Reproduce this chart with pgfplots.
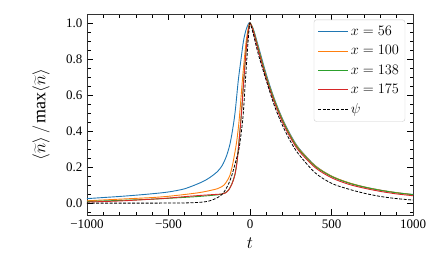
\documentclass[border=0pt]{standalone}
\usepackage{pgfplots}
\pgfplotsset{compat=1.18}
\usepackage{fontspec}
\setmainfont{Liberation Serif}
\definecolor{c0}{HTML}{1F77B4}
\definecolor{c1}{HTML}{FF7F0E}
\definecolor{c2}{HTML}{2CA02C}
\definecolor{c3}{HTML}{D62728}
\begin{document}
\begin{tikzpicture}
\begin{axis}[
  at={(0pt,0pt)}, anchor=south west,
  scale only axis, width=326pt, height=201pt,
  xmin=-1000, xmax=1000, ymin=-0.066, ymax=1.05,
  xtick={-1000,-500,0,500,1000},
  xticklabels={−1000,−500,0,500,1000},
  minor xtick={-900,-800,-700,-600,-400,-300,-200,-100,100,200,300,400,600,700,800,900},
  ytick={0,0.2,0.4,0.6,0.8,1.0},
  yticklabels={0.0,0.2,0.4,0.6,0.8,1.0},
  minor ytick={-0.05,0.05,0.1,0.15,0.25,0.3,0.35,0.45,0.5,0.55,0.65,0.7,0.75,0.85,0.9,0.95},
  tick align=inside, tick pos=both,
  major tick length=6pt, minor tick length=3.5pt,
  every tick/.style={black, line width=0.8pt},
  axis line style={line width=0.9pt, black!80},
  tick label style={font=\fontsize{13}{15}\selectfont},
  xticklabel style={yshift=-1.5pt},
  yticklabel style={xshift=-1pt},
  xlabel={$t$}, ylabel={$\langle\widetilde{n}\rangle\,/\max\langle\widetilde{n}\rangle$},
  label style={font=\fontsize{18}{20}\selectfont},
  xlabel style={at={(axis description cs:0.5,-0.14)}, anchor=center},
  ylabel style={at={(axis description cs:-0.141,0.5)}, anchor=center},
  legend cell align=left,
  legend style={at={(0.976,0.972)}, anchor=north east, draw=black!20, fill=white, fill opacity=0.85, text opacity=1, rounded corners=2.5pt, font=\fontsize{14}{16}\selectfont, row sep=4.5pt, inner xsep=4pt, inner ysep=4.5pt},
  legend image code/.code={\draw[#1] (0pt,0pt) -- (30pt,0pt);},
  every axis plot/.append style={line width=0.9pt},
]
\addplot[c0, smooth, tension=0.5] coordinates {
(-1000,0.025) (-900,0.031) (-800,0.037) (-700,0.044) (-600,0.052) (-500,0.062) (-400,0.08) (-300,0.115) (-250,0.14) (-200,0.175) (-170,0.21) (-145,0.26) (-125,0.32) (-110,0.39) (-92,0.5) (-72,0.68) (-55,0.8) (-40,0.9) (-25,0.96) (-10,0.995) (0,1.0) (20,0.968) (50,0.875) (100,0.715) (150,0.578) (200,0.467) (250,0.377) (300,0.305) (400,0.208) (500,0.15) (600,0.114) (700,0.09) (800,0.072) (900,0.058) (1000,0.048)};
\addlegendentry{$x = 56$}
\addplot[c1, smooth, tension=0.5] coordinates {
(-1000,0.013) (-800,0.022) (-600,0.031) (-500,0.038) (-400,0.048) (-300,0.06) (-200,0.08) (-160,0.1) (-140,0.125) (-125,0.15) (-110,0.2) (-95,0.27) (-82,0.34) (-70,0.43) (-61,0.52) (-45,0.70) (-25,0.887) (-10,0.975) (0,1.0) (20,0.963) (50,0.865) (100,0.705) (150,0.572) (200,0.462) (250,0.372) (300,0.302) (400,0.207) (500,0.15) (600,0.115) (700,0.09) (800,0.072) (900,0.058) (1000,0.047)};
\addlegendentry{$x = 100$}
\addplot[c2, smooth, tension=0.5] coordinates {
(-1000,0.009) (-800,0.015) (-600,0.022) (-400,0.032) (-300,0.038) (-200,0.046) (-170,0.051) (-150,0.058) (-130,0.075) (-110,0.11) (-92,0.16) (-80,0.23) (-72,0.30) (-60,0.42) (-51,0.52) (-37,0.70) (-20,0.887) (-8,0.97) (0,1.0) (20,0.96) (50,0.86) (100,0.70) (150,0.568) (200,0.458) (250,0.368) (300,0.298) (400,0.204) (500,0.148) (600,0.113) (700,0.089) (800,0.071) (900,0.057) (1000,0.047)};
\addlegendentry{$x = 138$}
\addplot[c3, smooth, tension=0.5] coordinates {
(-1000,0.006) (-800,0.012) (-600,0.022) (-500,0.028) (-400,0.036) (-300,0.043) (-200,0.049) (-170,0.051) (-150,0.057) (-130,0.074) (-110,0.108) (-92,0.16) (-80,0.225) (-72,0.295) (-60,0.415) (-51,0.515) (-37,0.695) (-20,0.885) (-8,0.97) (0,1.0) (20,0.955) (50,0.85) (100,0.69) (150,0.558) (200,0.448) (250,0.36) (300,0.29) (400,0.197) (500,0.141) (600,0.106) (700,0.083) (800,0.065) (900,0.051) (1000,0.041)};
\addlegendentry{$x = 175$}
\addplot[black, line width=0.8pt, dash pattern=on 3pt off 1.5pt, smooth, tension=0.5] coordinates {
(-1000,0.0) (-800,0.0) (-600,0.0) (-400,0.001) (-300,0.005) (-250,0.012) (-200,0.03) (-170,0.05) (-150,0.075) (-130,0.11) (-113,0.15) (-100,0.19) (-85,0.24) (-70,0.29) (-61,0.34) (-50,0.42) (-41,0.5) (-29,0.67) (-14,0.87) (-5,0.97) (0,1.0) (20,0.94) (50,0.83) (100,0.68) (150,0.54) (200,0.43) (250,0.34) (300,0.27) (400,0.168) (500,0.11) (600,0.079) (700,0.055) (800,0.037) (900,0.025) (1000,0.017)};
\addlegendentry{$\psi$}
\end{axis}
\pgfresetboundingbox
\path[use as bounding box] (-87pt,-54pt) rectangle (348pt,215pt);
\end{tikzpicture}
\end{document}
